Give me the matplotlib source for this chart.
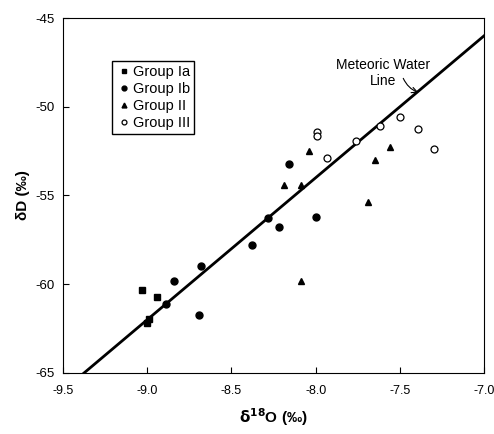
import numpy as np
import matplotlib.pyplot as plt

plt.rcParams['font.family'] = ['Liberation Sans', 'DejaVu Sans']
plt.rcParams['axes.unicode_minus'] = False

# Group Ia (squares)
ia_x = [-9.03, -8.94, -8.99, -9.00]
ia_y = [-60.3, -60.7, -61.95, -62.2]

# Group Ib (filled circles)
ib_x = [-8.89, -8.84, -8.68, -8.69, -8.38, -8.28, -8.22, -8.00, -8.16]
ib_y = [-61.1, -59.8, -59.0, -61.75, -57.8, -56.25, -56.8, -56.2, -53.2]

# Group II (triangles)
ii_x = [-8.19, -8.09, -7.69, -8.09, -8.04, -7.65, -7.56]
ii_y = [-54.4, -54.4, -55.35, -59.8, -52.5, -53.0, -52.25]

# Group III (open circles)
iii_x = [-7.99, -7.99, -7.93, -7.76, -7.62, -7.50, -7.39, -7.30]
iii_y = [-51.4, -51.65, -52.9, -51.95, -51.1, -50.6, -51.25, -52.4]

# meteoric water line: dD = 8 * d18O + 10
mwl_slope = 8
mwl_int = 10

fig = plt.figure(figsize=(4.94, 4.34), dpi=100)
ax = fig.add_axes([0.1275, 0.1406, 0.8525, 0.8179])

xl = np.array([-9.5, -7.0])
ax.plot(xl, mwl_slope * xl + mwl_int, color='black', lw=2, zorder=1)

ax.plot(ia_x, ia_y, 's', color='black', ms=5, label='Group Ia')
ax.plot(ib_x, ib_y, 'o', color='black', ms=5, label='Group Ib')
ax.plot(ii_x, ii_y, '^', color='black', ms=5, label='Group II')
ax.plot(iii_x, iii_y, 'o', mfc='white', mec='black', mew=0.9, ms=5, label='Group III')

ax.set_xlim(-9.5, -7.0)
ax.set_ylim(-65, -45)
ax.set_xticks([-9.5, -9.0, -8.5, -8.0, -7.5, -7.0])
ax.set_xticklabels(['-9.5', '-9.0', '-8.5', '-8.0', '-7.5', '-7.0'])
ax.set_yticks([-65, -60, -55, -50, -45])
ax.tick_params(direction='in', length=4, labelsize=9.5)
ax.tick_params(axis='x', pad=9, labelsize=9)
ax.tick_params(axis='y', pad=6)

ax.set_xlabel(r'$\mathbf{\delta^{18}}$O (‰)', fontsize=11, fontweight='bold', labelpad=6)
ax.set_ylabel('δD (‰)', fontsize=11, fontweight='bold')

leg = ax.legend(loc='upper left', bbox_to_anchor=(0.1, 0.9), fontsize=10.5,
                handletextpad=0.1, handlelength=1.0, markerscale=0.7,
                fancybox=False, edgecolor='black', borderpad=0.3,
                labelspacing=0.2, framealpha=1)
leg.get_frame().set_linewidth(1.0)

ax.text(-7.6, -48.1, 'Meteoric Water\nLine', fontsize=10, ha='center',
        va='center', linespacing=1.1)
ax.annotate('', xy=(-7.39, -49.2), xytext=(-7.48, -48.4),
            arrowprops=dict(arrowstyle='->', color='black', lw=0.8,
                            shrinkA=0, shrinkB=0,
                            connectionstyle='arc3,rad=0.2'))

fig.savefig('out.png', dpi=100)
